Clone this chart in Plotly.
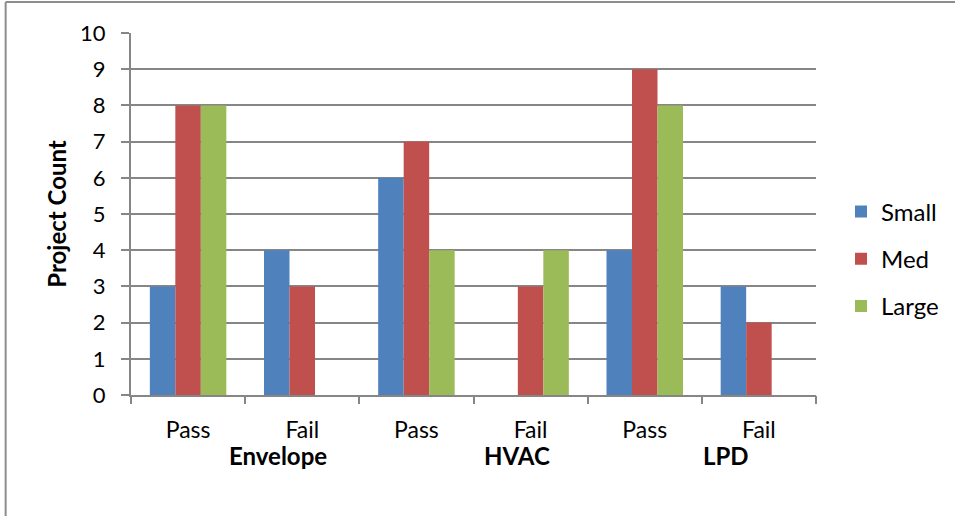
import plotly.graph_objects as go

groups = ["Envelope", "HVAC", "LPD"]
outcomes = ["Pass", "Fail"]
tick_labels = ["Pass", "Fail", "Pass", "Fail", "Pass", "Fail"]
small = [3, 4, 6, 0, 4, 3]
med = [8, 3, 7, 3, 9, 2]
large = [8, 0, 4, 4, 8, 0]
series_names = ["Small", "Med", "Large"]
colors = ["#4F81BD", "#C0504D", "#9BBB59"]

FONT = "Lato"
x = list(range(len(tick_labels)))

fig = go.Figure()
for name, vals, col in zip(series_names, [small, med, large], colors):
    fig.add_trace(go.Bar(x=x, y=vals, name=name, marker_color=col,
                         marker_line_width=0, legendgroup=name))

# hidden trace carrying the boundary tick marks on an overlay axis
fig.add_trace(go.Scatter(x=[-0.5, len(x) - 0.5], y=[None, None], xaxis="x2",
                         showlegend=False, hoverinfo="skip", mode="markers"))

grid = "#868686"
fig.update_layout(
    width=955, height=516,
    margin=dict(l=131, r=138, t=33, b=121),
    paper_bgcolor="white", plot_bgcolor="white",
    barmode="group", bargap=0.33, bargroupgap=0,
    font=dict(family=FONT, color="black"),
    xaxis=dict(range=[-0.5, len(x) - 0.5], tickvals=x, ticktext=tick_labels,
               ticks="", showgrid=False, showline=True, linecolor=grid,
               linewidth=2, tickfont=dict(size=23), ticklabelstandoff=13,
               zeroline=False),
    xaxis2=dict(overlaying="x", matches="x", side="bottom",
                tickvals=[i - 0.5 for i in range(len(x) + 1)],
                showticklabels=False, ticks="outside", ticklen=8,
                tickcolor=grid, tickwidth=2, showgrid=False, showline=False,
                zeroline=False),
    yaxis=dict(range=[0, 10], dtick=1, showgrid=True, gridcolor=grid,
               gridwidth=1.5, showline=True, linecolor=grid, linewidth=2,
               ticks="outside", ticklen=8, tickcolor=grid, tickwidth=2,
               tickfont=dict(size=22), ticklabelstandoff=11, zeroline=False,
               title=dict(text="<b>Project Count</b>", font=dict(size=24),
                          standoff=7)),
    legend=dict(x=1.035, xanchor="left", y=0.376, yanchor="middle",
                font=dict(size=24), tracegroupgap=13, traceorder="grouped",
                bgcolor="rgba(0,0,0,0)"),
    showlegend=True,
)

group_shift = [0.29, 0.38, 0.21]
for i, g in enumerate(groups):
    fig.add_annotation(x=2 * i + 0.5 + group_shift[i], y=0, xref="x", yref="paper",
                       yshift=-60, text=f"<b>{g}</b>", showarrow=False,
                       font=dict(size=24, family=FONT), yanchor="middle")

# outer chart border (top and left edges visible)
fig.add_shape(type="line", xref="paper", yref="paper", x0=-0.183, x1=1.3,
              y0=1.0856, y1=1.0856, line=dict(color="#8c8c8c", width=2))
fig.add_shape(type="line", xref="paper", yref="paper", x0=-0.183, x1=-0.183,
              y0=1.0856, y1=-0.5, line=dict(color="#8c8c8c", width=2))

fig.write_html("out.html", config={"displayModeBar": False},
               post_script="document.body.style.margin='0';")
